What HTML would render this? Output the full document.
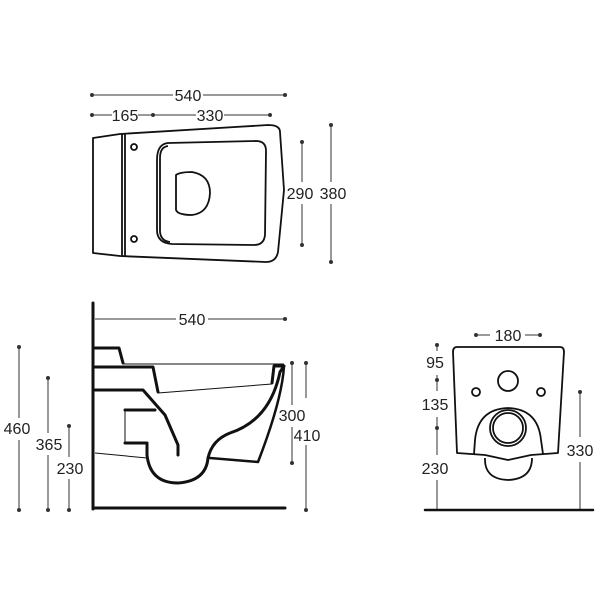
<!DOCTYPE html>
<html><head><style>
html,body{margin:0;padding:0;background:#fff;}
svg{display:block;}
text{font-family:"Liberation Sans",sans-serif;font-size:16px;fill:#222;}
</style></head><body>
<svg width="600" height="600" viewBox="0 0 600 600" xmlns="http://www.w3.org/2000/svg">
<g stroke="#333" stroke-width="1" fill="#333">
<line x1="92" y1="95" x2="173" y2="95"/><line x1="203" y1="95" x2="285" y2="95"/>
<circle cx="92" cy="95" r="1.5"/><circle cx="285" cy="95" r="1.5"/>
<line x1="92" y1="115" x2="112" y2="115"/><line x1="138" y1="115" x2="153" y2="115"/>
<line x1="153" y1="115" x2="196" y2="115"/><line x1="224" y1="115" x2="270" y2="115"/>
<circle cx="92" cy="115" r="1.5"/><circle cx="153" cy="115" r="1.5"/><circle cx="270" cy="115" r="1.5"/>
<line x1="302" y1="142" x2="302" y2="182"/><line x1="302" y1="204" x2="302" y2="245"/>
<circle cx="302" cy="142" r="1.5"/><circle cx="302" cy="245" r="1.5"/>
<line x1="331" y1="125" x2="331" y2="182"/><line x1="331" y1="204" x2="331" y2="262"/>
<circle cx="331" cy="125" r="1.5"/><circle cx="331" cy="262" r="1.5"/>
<line x1="95" y1="319" x2="176" y2="319"/><line x1="208" y1="319" x2="285" y2="319"/>
<circle cx="285" cy="319" r="1.5"/>
<line x1="19" y1="347" x2="19" y2="418"/><line x1="19" y1="440" x2="19" y2="510"/>
<circle cx="19" cy="347" r="1.5"/><circle cx="19" cy="510" r="1.5"/>
<line x1="48" y1="378" x2="48" y2="433"/><line x1="48" y1="455" x2="48" y2="510"/>
<circle cx="48" cy="378" r="1.5"/><circle cx="48" cy="510" r="1.5"/>
<line x1="69" y1="426" x2="69" y2="457"/><line x1="69" y1="479" x2="69" y2="510"/>
<circle cx="69" cy="426" r="1.5"/><circle cx="69" cy="510" r="1.5"/>
<line x1="292" y1="363" x2="292" y2="405"/><line x1="292" y1="427" x2="292" y2="463"/>
<circle cx="292" cy="363" r="1.5"/><circle cx="292" cy="463" r="1.5"/>
<line x1="306" y1="363" x2="306" y2="398"/><line x1="306" y1="445" x2="306" y2="510"/>
<circle cx="306" cy="363" r="1.5"/><circle cx="306" cy="510" r="1.5"/>
<line x1="476" y1="335" x2="490" y2="335"/><line x1="525" y1="335" x2="540" y2="335"/>
<circle cx="476" cy="335" r="1.5"/><circle cx="540" cy="335" r="1.5"/>
<line x1="437" y1="345" x2="437" y2="351"/><line x1="437" y1="375" x2="437" y2="391"/>
<line x1="437" y1="417" x2="437" y2="455"/><line x1="437" y1="480" x2="437" y2="510"/>
<circle cx="437" cy="345" r="1.5"/><circle cx="437" cy="380" r="1.5"/><circle cx="437" cy="428" r="1.5"/>
<line x1="580" y1="392" x2="580" y2="437"/><line x1="580" y1="462" x2="580" y2="510"/>
<circle cx="580" cy="392" r="1.5"/>
</g>
<g>
<text x="188" y="101" text-anchor="middle">540</text>
<text x="125" y="121" text-anchor="middle">165</text>
<text x="210" y="121" text-anchor="middle">330</text>
<text x="300" y="199" text-anchor="middle">290</text>
<text x="333" y="199" text-anchor="middle">380</text>
<text x="192" y="325" text-anchor="middle">540</text>
<text x="17" y="434" text-anchor="middle">460</text>
<text x="49" y="450" text-anchor="middle">365</text>
<text x="70" y="474" text-anchor="middle">230</text>
<text x="292" y="421" text-anchor="middle">300</text>
<text x="307" y="441" text-anchor="middle">410</text>
<text x="508" y="341" text-anchor="middle">180</text>
<text x="435" y="368" text-anchor="middle">95</text>
<text x="435" y="410" text-anchor="middle">135</text>
<text x="435" y="474" text-anchor="middle">230</text>
<text x="580" y="456" text-anchor="middle">330</text>
</g>
<g fill="none" stroke="#111" stroke-width="1.8" stroke-linejoin="round">
<path d="M93,138 L120,134 L268,125 Q280,125 280,132 L284,190 L278,252 Q276,262 266,262 L120,256 L93,253 Z"/>
<line x1="122" y1="134" x2="122" y2="256"/><line x1="125" y1="134" x2="125" y2="256"/>
<circle cx="134" cy="147" r="3"/><circle cx="134" cy="239" r="3"/>
<path d="M168,143 L256,141 Q266,141 266,151 L265,235 Q264,245 254,245 L172,244 Q157,243 157,230 L157,160 Q157,144 168,143 Z"/>
<path d="M168,146 Q160,147 160,158 L160,232 Q161,241 170,242"/>
<path d="M176,175 Q180,172 192,172 Q210,175 210,193 Q209,213 192,215 Q178,215 176,210 Z"/>
<path d="M457,347 L560,347 Q564,347 564,352 L558,453 L531,455 L508,460 L485,455 L457,453 L453,352 Q453,347 457,347 Z"/>
<circle cx="508" cy="381" r="10"/>
<circle cx="476" cy="392" r="4"/><circle cx="541" cy="392" r="4"/>
<path d="M474,454 L475,440 Q478,409 508,408 Q538,409 541,440 L543,454"/>
<circle cx="508" cy="428" r="18"/><circle cx="508" cy="428" r="15"/>
<path d="M485,458 Q484,479 508,480 Q532,479 532,458"/>
</g>
<g fill="none" stroke="#111" stroke-width="3" stroke-linejoin="round" stroke-linecap="round">
<line x1="93" y1="303" x2="93" y2="509"/>
<line x1="93" y1="508" x2="285" y2="508"/>
<line x1="425" y1="510" x2="593" y2="510" stroke-width="2.5"/>
<path d="M95,348 L119,348 L123,363"/>
<path d="M95,367 L153,367 L158,392"/>
<path d="M95,390 L143,390 L165,415 L178,445 L178,455"/>
<path d="M125,410 L155,410"/>
<path d="M125,443 L147,443 L147,455 Q150,483 178,483 Q206,481 208,458 Q212,440 230,433 Q270,420 280,372 L284,366 L274,366 L272,383"/>
<path d="M284,366 Q282,400 258,462 L210,458" stroke-width="2.5"/>
</g>
<g fill="none" stroke="#111" stroke-width="1">
<line x1="123" y1="364" x2="284" y2="364"/>
<line x1="158" y1="393" x2="272" y2="384"/>
<line x1="95" y1="453" x2="147" y2="458"/>
<line x1="125" y1="410" x2="125" y2="443"/>
</g>
</svg>
</body></html>
